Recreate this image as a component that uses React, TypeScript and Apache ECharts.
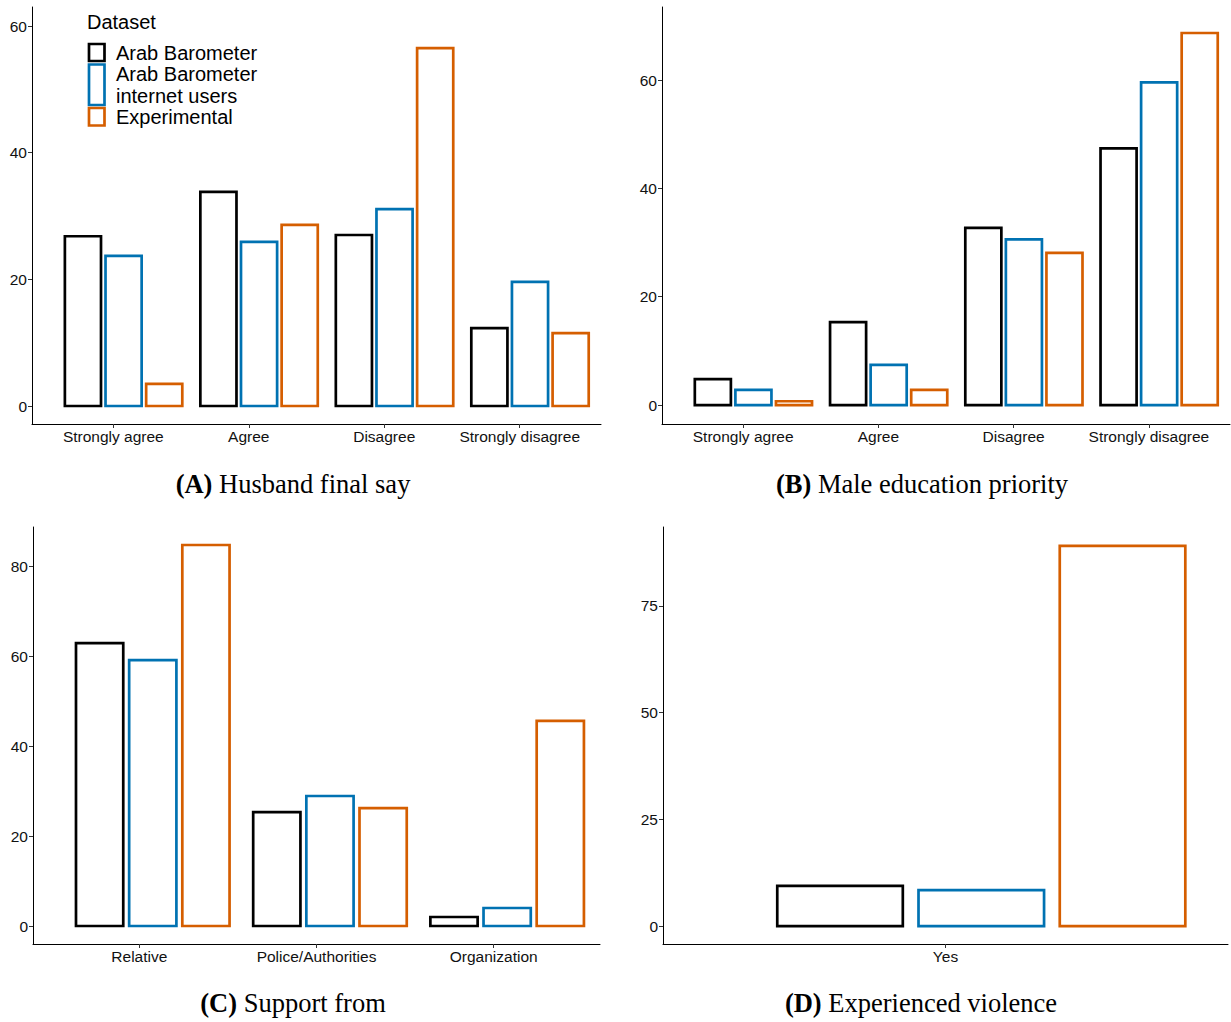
import React, { useEffect, useRef } from 'react';
import * as echarts from 'echarts';

// ---- Data ----
const DATASETS = ['Arab Barometer', 'Arab Barometer internet users', 'Experimental'];
const COLORS = ['#000000', '#0072B2', '#D55E00'];

const catsA = ['Strongly agree', 'Agree', 'Disagree', 'Strongly disagree'];
const abA = [26.8, 33.8, 27.0, 12.3];
const abiA = [23.7, 25.9, 31.1, 19.6];
const expA = [3.5, 28.6, 56.5, 11.5];
const ticksA = [0, 20, 40, 60];

const catsB = ['Strongly agree', 'Agree', 'Disagree', 'Strongly disagree'];
const abB = [4.8, 15.3, 32.7, 47.4];
const abiB = [2.8, 7.4, 30.6, 59.6];
const expB = [0.7, 2.8, 28.1, 68.7];
const ticksB = [0, 20, 40, 60];

const catsC = ['Relative', 'Police/Authorities', 'Organization'];
const abC = [62.9, 25.3, 2.0];
const abiC = [59.1, 28.9, 4.0];
const expC = [84.7, 26.2, 45.6];
const ticksC = [0, 20, 40, 60, 80];

const catsD = ['Yes'];
const abD = [9.4];
const abiD = [8.4];
const expD = [89.1];
const ticksD = [0, 25, 50, 75];

// ---- Layout / style ----
const BAR_W = 0.8 / 3;
const DODGE = 0.9 / 3;
const GROUP_SHIFT = 0.076;
const LW = 2.7;
const SANS = 'Liberation Sans, Arial, sans-serif';
const SERIF = 'Liberation Serif, Times New Roman, serif';

const panels = [
  { cats: catsA, series: [abA, abiA, expA], ticks: ticksA, yMin: -2.84, yMax: 63.0,
    grid: { left: 32, top: 7, width: 569, height: 417 },
    letter: '(A)', caption: 'Husband final say', cx: 293, cy: 484 },
  { cats: catsB, series: [abB, abiB, expB], ticks: ticksB, yMin: -3.5, yMax: 73.5,
    grid: { left: 662, top: 7, width: 568, height: 417 },
    letter: '(B)', caption: 'Male education priority', cx: 922, cy: 484 },
  { cats: catsC, series: [abC, abiC, expC], ticks: ticksC, yMin: -4.0, yMax: 88.7,
    grid: { left: 33, top: 527, width: 567, height: 417 },
    letter: '(C)', caption: 'Support from', cx: 293, cy: 1003 },
  { cats: catsD, series: [abD, abiD, expD], ticks: ticksD, yMin: -4.2, yMax: 93.5,
    grid: { left: 663, top: 527, width: 565, height: 417 },
    letter: '(D)', caption: 'Experienced violence', cx: 921, cy: 1003 },
];

function makeRender(idx: number) {
  return (params: any, api: any) => {
    const x = api.value(0) + GROUP_SHIFT + (idx - 1) * DODGE;
    const v = api.value(1);
    const tl = api.coord([x - BAR_W / 2, v]);
    const br = api.coord([x + BAR_W / 2, 0]);
    return {
      type: 'rect',
      shape: { x: tl[0], y: tl[1], width: br[0] - tl[0], height: br[1] - tl[1] },
      style: { fill: 'none', stroke: COLORS[idx], lineWidth: LW },
    };
  };
}

function buildOption() {
  const grids: any[] = [];
  const xAxes: any[] = [];
  const yAxes: any[] = [];
  const series: any[] = [];
  const graphics: any[] = [];

  panels.forEach((p, k) => {
    grids.push({ ...p.grid, containLabel: false });
    const positions = p.cats.map((_, i) => i + 1);
    xAxes.push({
      type: 'value', gridIndex: k, min: 0.4, max: p.cats.length + 0.6,
      axisLine: { show: true, onZero: false, lineStyle: { color: '#000', width: 1 } },
      axisTick: { show: true, customValues: positions, length: 4, lineStyle: { color: '#333', width: 1 } },
      axisLabel: {
        customValues: positions,
        formatter: (v: number) => p.cats[Math.round(v) - 1] ?? '',
        color: '#111', fontSize: 15.5, fontFamily: SANS, margin: 4,
      },
      splitLine: { show: false },
    });
    yAxes.push({
      type: 'value', gridIndex: k, min: p.yMin, max: p.yMax,
      axisLine: { show: true, onZero: false, lineStyle: { color: '#000', width: 1 } },
      axisTick: { show: true, customValues: p.ticks, length: 4, lineStyle: { color: '#333', width: 1 } },
      axisLabel: { customValues: p.ticks, color: '#111', fontSize: 15.5, fontFamily: SANS, margin: 5 },
      splitLine: { show: false },
    });
    p.series.forEach((vals, idx) => {
      series.push({
        type: 'custom', name: DATASETS[idx], xAxisIndex: k, yAxisIndex: k,
        renderItem: makeRender(idx),
        encode: { x: 0, y: 1 },
        data: vals.map((v, i) => [i + 1, v]),
        clip: false,
      });
    });
    graphics.push({
      type: 'text', x: p.cx, y: p.cy,
      style: {
        text: '{b|' + p.letter + '} ' + p.caption,
        rich: { b: { fontWeight: 'bold', fontFamily: SERIF, fontSize: 26.5, fill: '#000' } },
        font: '26.5px ' + SERIF, fill: '#000',
        textAlign: 'center', textVerticalAlign: 'middle',
      },
    });
  });

  // Legend (panel A)
  const legendBoxes = [
    { y: 44, h: 17, color: COLORS[0], lines: ['Arab Barometer'], ty: [52.5] },
    { y: 64.5, h: 40.5, color: COLORS[1], lines: ['Arab Barometer', 'internet users'], ty: [74, 96] },
    { y: 108, h: 17.5, color: COLORS[2], lines: ['Experimental'], ty: [117] },
  ];
  graphics.push({
    type: 'text', x: 87, y: 22,
    style: { text: 'Dataset', font: '20px ' + SANS, fill: '#000', textAlign: 'left', textVerticalAlign: 'middle' },
  });
  legendBoxes.forEach((b) => {
    graphics.push({
      type: 'rect', shape: { x: 89, y: b.y, width: 15.5, height: b.h },
      style: { fill: '#fff', stroke: b.color, lineWidth: LW },
    });
    b.lines.forEach((t, i) => {
      graphics.push({
        type: 'text', x: 116, y: b.ty[i],
        style: { text: t, font: '20px ' + SANS, fill: '#000', textAlign: 'left', textVerticalAlign: 'middle' },
      });
    });
  });

  return {
    animation: false,
    backgroundColor: '#ffffff',
    grid: grids,
    xAxis: xAxes,
    yAxis: yAxes,
    series,
    graphic: graphics,
  };
}

export default function App() {
  const ref = useRef<HTMLDivElement>(null);
  useEffect(() => {
    if (!ref.current) return;
    const chart = echarts.init(ref.current, undefined, { renderer: 'svg' });
    chart.setOption(buildOption() as any);
    return () => chart.dispose();
  }, []);
  return (
    <div
      ref={ref}
      style={{ position: 'fixed', left: 0, top: 0, width: 1231, height: 1022, background: '#fff' }}
    />
  );
}
